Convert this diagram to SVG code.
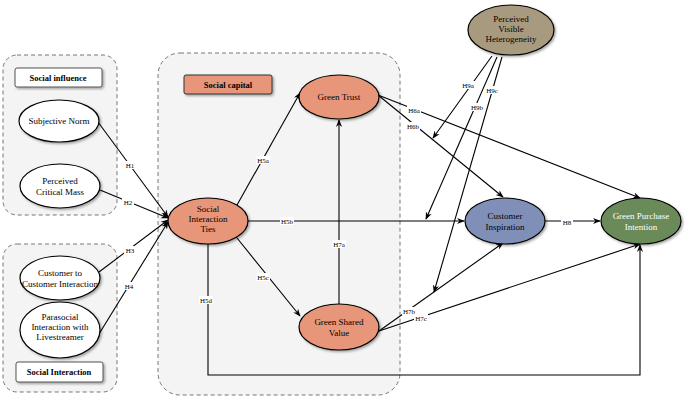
<svg xmlns="http://www.w3.org/2000/svg" width="685" height="400" viewBox="0 0 685 400">
<defs>
<marker id="a" viewBox="0 0 10 10" refX="9" refY="5" markerWidth="7" markerHeight="7" orient="auto"><path d="M0,1 L10,5 L0,9 L3,5 Z" fill="#000"/></marker>
<filter id="s" x="-20%" y="-20%" width="140%" height="140%"><feDropShadow dx="1.5" dy="1.5" stdDeviation="1" flood-opacity="0.35"/></filter>
</defs>
<style>
text{font-family:"Liberation Serif",serif;font-size:9px;text-anchor:middle;fill:#000}
.grp{fill:#f4f4f4;stroke:#777;stroke-dasharray:4 3;stroke-width:1}
.n{stroke:#000;stroke-width:1.2;filter:url(#s)}
.t{font-weight:bold;font-size:8.5px}
.l{font-size:7px}
.lb{fill:#fff}
.e{fill:none;stroke:#000;stroke-width:1.1;marker-end:url(#a)}
.w{fill:#fff}
</style>
<rect width="685" height="400" fill="#fff"/>
<g id="g-influence"><rect class="grp" x="3" y="55" width="114" height="160" rx="14"/>
<rect x="15" y="68" width="87" height="19" rx="2" fill="#fff" stroke="#555" filter="url(#s)"/><text class="t" x="58" y="81">Social influence</text></g>
<g id="g-interaction"><rect class="grp" x="3" y="244" width="114" height="148" rx="14"/>
<rect x="16" y="362" width="87" height="20" rx="2" fill="#fff" stroke="#555" filter="url(#s)"/><text class="t" x="59" y="375">Social Interaction</text></g>
<g id="g-capital"><rect class="grp" x="158" y="53" width="242" height="342" rx="22"/>
<rect x="184" y="75" width="88" height="19" rx="2" fill="#e8967a" stroke="#333" filter="url(#s)"/><text class="t" x="228" y="88">Social capital</text></g>

<g id="connectors">
<line class="e" x1="98" y1="122" x2="168" y2="217"/>
<line class="e" x1="100" y1="190" x2="168" y2="218"/>
<line class="e" x1="99" y1="272" x2="168" y2="220"/>
<line class="e" x1="99" y1="334" x2="168" y2="222"/>
<line class="e" x1="237" y1="205" x2="300" y2="93"/>
<line class="e" x1="237" y1="238" x2="300" y2="316"/>
<line class="e" x1="248" y1="221" x2="464" y2="221"/>
<polyline class="e" points="208,244 208,375 640,375 640,245"/>
<line class="e" x1="339" y1="304" x2="339" y2="120"/>
<line class="e" x1="378" y1="95" x2="640" y2="198"/>
<line class="e" x1="378" y1="95" x2="503" y2="197"/>
<line class="e" x1="545" y1="221" x2="600" y2="221"/>
<line class="e" x1="379" y1="331" x2="503" y2="243"/>
<line class="e" x1="379" y1="331" x2="640" y2="244"/>
<line class="e" x1="492" y1="56" x2="433" y2="138"/>
<line class="e" x1="497" y1="57" x2="426" y2="219"/>
<line class="e" x1="502" y1="57" x2="434" y2="292"/>
<g class="l">
<rect class="lb" x="124" y="161" width="12" height="8"/><text class="l" x="130" y="168">H1</text>
<rect class="lb" x="122" y="198" width="12" height="8"/><text class="l" x="128" y="205">H2</text>
<rect class="lb" x="124" y="246" width="12" height="8"/><text class="l" x="130" y="253">H3</text>
<rect class="lb" x="123" y="282" width="12" height="8"/><text class="l" x="129" y="289">H4</text>
<rect class="lb" x="256" y="156" width="14" height="8"/><text class="l" x="263" y="163">H5a</text>
<rect class="lb" x="280" y="217" width="14" height="8"/><text class="l" x="287" y="224">H5b</text>
<rect class="lb" x="256" y="273" width="14" height="8"/><text class="l" x="263" y="280">H5c</text>
<rect class="lb" x="199" y="296" width="14" height="8"/><text class="l" x="206" y="303">H5d</text>
<rect class="lb" x="332" y="240" width="14" height="8"/><text class="l" x="339" y="247">H7a</text>
<rect class="lb" x="407" y="106" width="14" height="8"/><text class="l" x="414" y="113">H6a</text>
<rect class="lb" x="406" y="122" width="14" height="8"/><text class="l" x="413" y="129">H6b</text>
<rect class="lb" x="561" y="218" width="12" height="8"/><text class="l" x="567" y="225">H8</text>
<rect class="lb" x="402" y="307" width="14" height="8"/><text class="l" x="409" y="314">H7b</text>
<rect class="lb" x="414" y="314" width="14" height="8"/><text class="l" x="421" y="321">H7c</text>
<rect class="lb" x="461" y="81" width="14" height="8"/><text class="l" x="468" y="88">H9a</text>
<rect class="lb" x="470" y="103" width="14" height="8"/><text class="l" x="477" y="110">H9b</text>
<rect class="lb" x="485" y="86" width="14" height="8"/><text class="l" x="492" y="93">H9c</text>
</g>
</g>

<g id="n-sn"><ellipse class="n w" cx="59" cy="121" rx="40" ry="21"/><text x="59" y="124">Subjective Norm</text></g>
<g id="n-pcm"><ellipse class="n w" cx="60" cy="186" rx="40" ry="22"/><text x="60" y="184">Perceived</text><text x="60" y="195">Critical Mass</text></g>
<g id="n-cci"><ellipse class="n w" cx="60" cy="278" rx="40" ry="22"/><text x="60" y="276">Customer to</text><text x="60" y="287">Customer Interaction</text></g>
<g id="n-psi"><ellipse class="n w" cx="60" cy="330" rx="40" ry="28"/><text x="60" y="320">Parasocial</text><text x="60" y="330">Interaction with</text><text x="60" y="340">Livestreamer</text></g>
<g id="n-sit"><ellipse class="n" fill="#e8967a" cx="208" cy="221" rx="40" ry="23"/><text x="208" y="212">Social</text><text x="208" y="222">Interaction</text><text x="208" y="232">Ties</text></g>
<g id="n-gt"><ellipse class="n" fill="#e8967a" cx="339" cy="97" rx="40" ry="22"/><text x="339" y="100">Green Trust</text></g>
<g id="n-gsv"><ellipse class="n" fill="#e8967a" cx="339" cy="327" rx="40" ry="23"/><text x="339" y="325">Green Shared</text><text x="339" y="336">Value</text></g>
<g id="n-ci"><ellipse class="n" fill="#7f8fb8" cx="505" cy="221" rx="40" ry="23"/><text x="505" y="219">Customer</text><text x="505" y="230">Inspiration</text></g>
<g id="n-gpi"><ellipse class="n" fill="#6a8a5a" cx="641" cy="221" rx="40" ry="23"/><text x="641" y="219" fill="#fff" style="fill:#fff">Green Purchase</text><text x="641" y="230" style="fill:#fff">Intention</text></g>
<g id="n-pvh"><ellipse class="n" fill="#a89a7e" cx="511" cy="30" rx="43" ry="25"/><text x="511" y="22">Perceived</text><text x="511" y="32">Visible</text><text x="511" y="42">Heterogeneity</text></g>
</svg>
